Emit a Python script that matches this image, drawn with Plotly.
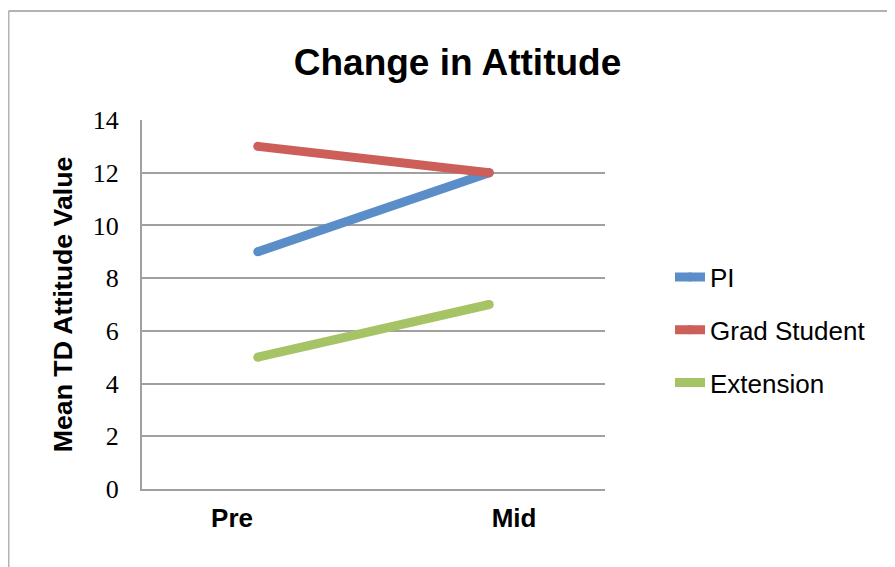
import plotly.graph_objects as go

categories = ["Pre", "Mid"]
series_names = ["PI", "Grad Student", "Extension"]
pi_values = [9, 12]
grad_values = [13, 12]
ext_values = [5, 7]
y_ticks = [0, 2, 4, 6, 8, 10, 12, 14]

colors = ["#5B8EC8", "#CC5F5A", "#A6C465"]
all_values = [pi_values, grad_values, ext_values]

OFF = 8  # page body margin offset
W, H = 895 - OFF, 567 - OFF
# target page-pixel positions of the plot area
PL, PR, PT, PB = 142, 605, 120, 489
ML, MT = PL - OFF, PT - OFF
MR, MB = W - (PR - OFF), H - (PB - OFF)
PW, PH = PR - PL, PB - PT

fig = go.Figure()
for name, vals, col in zip(series_names, all_values, colors):
    fig.add_trace(go.Scatter(
        x=categories, y=vals, name=name, mode="lines+markers",
        line=dict(color=col, width=9),
        marker=dict(color=col, size=9, line=dict(width=0)),
        legendgroup=name,
    ))

# invisible trace carrying the category labels axis (labels sit offset from points)
fig.add_trace(go.Scatter(x=categories, y=[None, None], xaxis="x2", showlegend=False,
                         hoverinfo="skip", mode="lines"))

def px_to_paper_x(px):
    return (px - PL) / PW

def px_to_paper_y(py):
    return (PB - py) / PH

border = dict(color="#b3b3b3", width=2)
fig.add_shape(type="line", xref="paper", yref="paper",
              x0=px_to_paper_x(8.5), x1=px_to_paper_x(8.5),
              y0=px_to_paper_y(620), y1=px_to_paper_y(11), line=border, layer="below")
fig.add_shape(type="line", xref="paper", yref="paper",
              x0=px_to_paper_x(8.5), x1=px_to_paper_x(940),
              y0=px_to_paper_y(11), y1=px_to_paper_y(11), line=border, layer="below")

# label axis: Pre label centred at 232 px, Mid at 514 px
lab_unit = 514 - 232
lab_range = [-(232 - PL) / lab_unit, 1 + (PR - 514) / lab_unit]

fig.update_layout(
    width=W, height=H,
    margin=dict(l=ML, r=MR, t=MT, b=MB),
    paper_bgcolor="white", plot_bgcolor="white",
    title=dict(text="<b>Change in Attitude</b>", xref="container", yref="container",
               x=(457.5 - OFF) / W, y=1 - (62 - OFF) / H,
               xanchor="center", yanchor="middle",
               font=dict(family="Liberation Sans, Arial", size=37, color="black")),
    showlegend=True,
    legend=dict(x=px_to_paper_x(670), y=px_to_paper_y(330), xanchor="left", yanchor="middle",
                font=dict(family="Liberation Sans, Arial", size=26, color="black"),
                tracegroupgap=16, bgcolor="rgba(0,0,0,0)"),
    xaxis=dict(type="category", range=[-0.5, 1.5], showgrid=False,
               showline=True, linecolor="#a0a0a0", linewidth=2,
               ticks="", showticklabels=False, fixedrange=True),
    xaxis2=dict(type="category", overlaying="x", side="bottom", range=lab_range,
                categoryorder="array", categoryarray=categories,
                showgrid=False, showline=False, zeroline=False, ticks="",
                tickfont=dict(family="Liberation Sans, Arial", size=26, color="black"),
                tickprefix="<b>", ticksuffix="</b>", ticklabelstandoff=11, fixedrange=True),
    yaxis=dict(range=[0, 14], tickvals=y_ticks, showgrid=True, gridcolor="#a0a0a0", gridwidth=2,
               showline=True, linecolor="#a0a0a0", linewidth=2, zeroline=False,
               ticks="", tickfont=dict(family="Liberation Serif, serif", size=26, color="black"),
               ticklabelstandoff=16,
               title=dict(text="<b>Mean TD Attitude Value</b>", standoff=12,
                          font=dict(family="Liberation Sans, Arial", size=26.7, color="black"))),
)

fig.write_html("out.html")
